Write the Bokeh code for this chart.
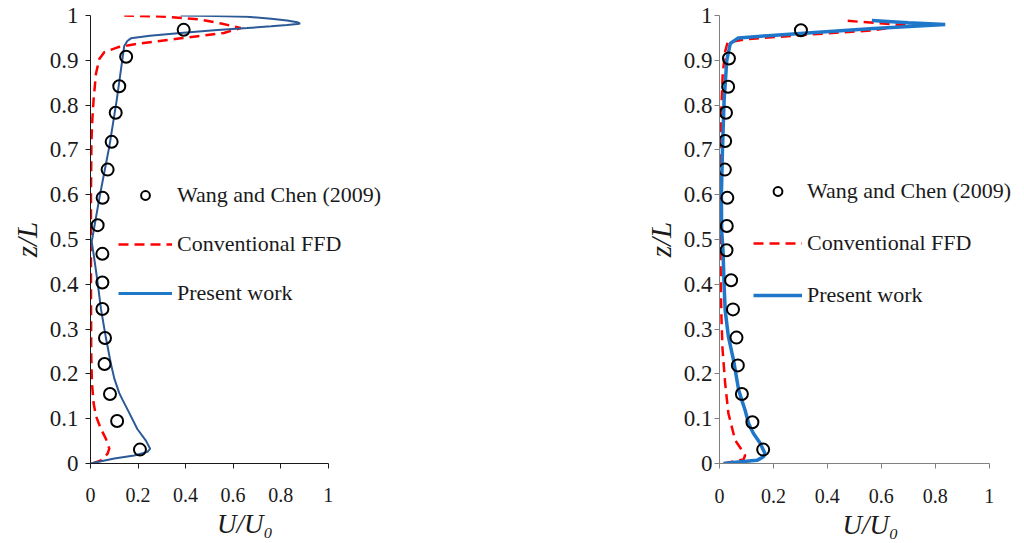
from bokeh.plotting import figure
from bokeh.layouts import row
from bokeh.models import Range1d, FixedTicker, Legend, LegendItem
from bokeh.embed import file_html
from bokeh.resources import INLINE

# ---- tick positions / labels ----
x_ticks = [0, 0.2, 0.4, 0.6, 0.8, 1.0]
x_tick_labels = ["0", "0.2", "0.4", "0.6", "0.8", "1"]
y_ticks = [0, 0.1, 0.2, 0.3, 0.4, 0.5, 0.6, 0.7, 0.8, 0.9, 1.0]
y_tick_labels = ["0", "0.1", "0.2", "0.3", "0.4", "0.5", "0.6", "0.7", "0.8", "0.9", "1"]

# ---- left panel data ----
wc_left_u = [0.208, 0.112, 0.082, 0.059, 0.061, 0.050, 0.050, 0.050,
             0.030, 0.051, 0.072, 0.089, 0.106, 0.121, 0.150, 0.392]
wc_left_z = [0.031, 0.095, 0.155, 0.222, 0.280, 0.345, 0.404, 0.468,
             0.532, 0.593, 0.656, 0.718, 0.783, 0.842, 0.908, 0.968]

ffd_left_u = [0.009, 0.044, 0.072, 0.079, 0.065, 0.044, 0.023, 0.013, 0.006,
              0.003, 0.002, 0.002, 0.004, 0.008, 0.013, 0.023, 0.037, 0.058,
              0.114, 0.200, 0.379, 0.561, 0.632, 0.550, 0.463, 0.296, 0.142]
ffd_left_z = [0.000, 0.007, 0.022, 0.033, 0.055, 0.077, 0.106, 0.135, 0.180,
              0.250, 0.400, 0.600, 0.720, 0.770, 0.812, 0.870, 0.903, 0.918,
              0.929, 0.937, 0.949, 0.961, 0.972, 0.982, 0.991, 0.998, 1.000]

pw_left_u = [0.000, 0.100, 0.184, 0.240, 0.251, 0.233, 0.197, 0.163, 0.135,
             0.121, 0.100, 0.086, 0.065, 0.044, 0.030, 0.013, 0.005, 0.040,
             0.080, 0.110, 0.142, 0.155, 0.170, 0.250, 0.379, 0.520, 0.659,
             0.760, 0.827, 0.870, 0.882, 0.870, 0.827, 0.760, 0.659, 0.520, 0.379]
pw_left_z = [0.000, 0.011, 0.018, 0.026, 0.033, 0.051, 0.077, 0.113, 0.142,
             0.157, 0.190, 0.222, 0.280, 0.345, 0.404, 0.468, 0.495, 0.600,
             0.710, 0.810, 0.932, 0.943, 0.949, 0.955, 0.961, 0.967, 0.972,
             0.976, 0.979, 0.981, 0.982, 0.985, 0.989, 0.993, 0.997, 0.999, 1.000]

# ---- right panel data ----
wc_right_u = [0.162, 0.122, 0.083, 0.068, 0.063, 0.050, 0.043, 0.026,
              0.027, 0.029, 0.020, 0.021, 0.024, 0.032, 0.035, 0.302]
wc_right_z = [0.031, 0.092, 0.155, 0.219, 0.281, 0.344, 0.409, 0.476,
              0.530, 0.593, 0.656, 0.720, 0.783, 0.841, 0.904, 0.967]

ffd_right_u = [0.015, 0.089, 0.095, 0.083, 0.058, 0.033, 0.021, 0.011, 0.007,
               0.005, 0.003, 0.002, 0.006, 0.012, 0.021, 0.030, 0.101, 0.299,
               0.571, 0.695, 0.454]
ffd_right_z = [0.000, 0.009, 0.018, 0.030, 0.052, 0.112, 0.179, 0.257, 0.330,
               0.400, 0.500, 0.670, 0.780, 0.870, 0.920, 0.940, 0.947, 0.956,
               0.967, 0.978, 0.989]

pw_right_u = [0.015, 0.080, 0.139, 0.163, 0.169, 0.151, 0.126, 0.108, 0.095,
              0.083, 0.071, 0.052, 0.033, 0.021, 0.017, 0.013, 0.008, 0.007,
              0.011, 0.017, 0.027, 0.040, 0.070, 0.180, 0.299, 0.571, 0.837,
              0.700, 0.565]
pw_right_z = [0.000, 0.004, 0.007, 0.015, 0.022, 0.045, 0.067, 0.089, 0.119,
              0.141, 0.164, 0.231, 0.283, 0.342, 0.400, 0.476, 0.520, 0.600,
              0.700, 0.810, 0.900, 0.9375, 0.950, 0.955, 0.960, 0.971, 0.980,
              0.984, 0.989]

SERIF = "Liberation Serif"
RED = "#FF0000"
LEGEND_BLUE = "#1F77C9"
TEXT = "#1a1a1a"


def make_panel(width, border_left, frame_w, x_max, border_top, frame_h,
               axis_color, x_label_std, y_label_std, y_font):
    p = figure(width=width, height=543, output_backend="svg",
               toolbar_location=None,
               x_range=Range1d(0, x_max), y_range=Range1d(0, 1),
               min_border_left=border_left,
               min_border_right=width - border_left - frame_w,
               min_border_top=border_top,
               min_border_bottom=543 - border_top - frame_h)
    p.outline_line_color = None
    p.grid.visible = False
    p.xaxis.bounds = (0, 1)
    p.xaxis.ticker = FixedTicker(ticks=x_ticks)
    p.yaxis.ticker = FixedTicker(ticks=y_ticks)
    p.xaxis.major_label_overrides = dict(zip(x_ticks, x_tick_labels))
    p.yaxis.major_label_overrides = dict(zip(y_ticks, y_tick_labels))
    for ax in (p.xaxis, p.yaxis):
        ax.axis_line_color = axis_color
        ax.major_tick_line_color = axis_color
        ax.major_tick_in = 0
        ax.major_tick_out = 5
        ax.minor_tick_line_color = None
        ax.major_label_text_font = SERIF
        ax.major_label_text_color = TEXT
        ax.axis_label_text_font = SERIF
        ax.axis_label_text_font_style = "italic"
        ax.axis_label_text_color = TEXT
    p.xaxis.axis_label_text_font_size = "27px"
    p.yaxis.axis_label_text_font_size = "29px"
    p.xaxis.major_label_text_font_size = "20px"
    p.yaxis.major_label_text_font_size = y_font
    p.xaxis.major_label_standoff = x_label_std
    p.yaxis.major_label_standoff = y_label_std
    p.xaxis.axis_label = "U/U₀"
    p.yaxis.axis_label = "z/L"
    p.xaxis.axis_label_standoff = 4
    p.yaxis.axis_label_standoff = 4
    return p


def add_legend(p, r_wc, r_ffd, r_pw, loc, glyph_w, spacing):
    leg = Legend(items=[LegendItem(label="Wang and Chen (2009)", renderers=[r_wc]),
                        LegendItem(label="Conventional FFD", renderers=[r_ffd]),
                        LegendItem(label="Present work", renderers=[r_pw])],
                 location=loc, glyph_width=glyph_w, glyph_height=22,
                 label_height=30, spacing=spacing, padding=0, margin=0,
                 label_standoff=5, label_text_font=SERIF,
                 label_text_font_size="22px", label_text_color=TEXT,
                 background_fill_alpha=0, border_line_color=None)
    p.add_layout(leg, "center")


# ---------------- left panel ----------------
p1 = make_panel(560, 90, 309, 1.3, 14, 458, "#1a1a1a", 19, 7, "23px")
r_ffd1 = p1.line(ffd_left_u, ffd_left_z, line_color=RED, line_width=2.5,
                 line_dash="10 6")
r_pw1 = p1.line(pw_left_u, pw_left_z, line_color="#2B5A96", line_width=2)
r_wc1 = p1.scatter(wc_left_u, wc_left_z, marker="circle", size=12,
                   fill_color=None, line_color="black", line_width=2)
# legend key for "Present work" in the lighter blue (not drawn in the frame)
r_pw1_key = p1.line(pw_left_u, pw_left_z, line_color=LEGEND_BLUE,
                    line_width=3, visible=False)
add_legend(p1, r_wc1, r_ffd1, r_pw1_key, (28, 155), 54, 19)

# ---------------- right panel ----------------
p2 = make_panel(464, 159, 302, 1.12, 15, 448, "#808080", 20, 2, "23px")
r_ffd2 = p2.line(ffd_right_u, ffd_right_z, line_color=RED, line_width=2.5,
                 line_dash="10 6")
r_pw2 = p2.line(pw_right_u, pw_right_z, line_color=LEGEND_BLUE, line_width=3.5)
r_wc2 = p2.scatter(wc_right_u, wc_right_z, marker="circle", size=12,
                   fill_color=None, line_color="black", line_width=2)
add_legend(p2, r_wc2, r_ffd2, r_pw2, (34, 153), 49, 22)

layout = row(p1, p2)
open("out.html", "w").write(file_html(layout, INLINE))
